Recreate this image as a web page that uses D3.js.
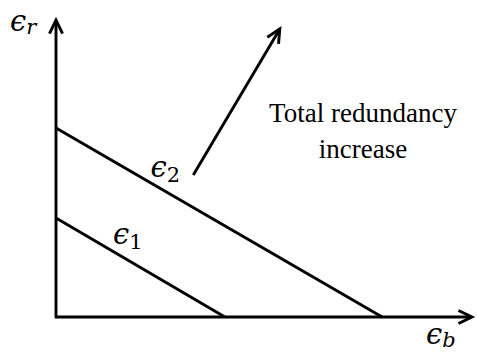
<!DOCTYPE html>
<html>
<head>
<meta charset="utf-8">
<script src="https://cdn.jsdelivr.net/npm/d3@7"></script>
<style>
  html, body { margin: 0; padding: 0; background: #fff; }
  svg { display: block; }
  .math { font-family: "DejaVu Serif", serif; }
  .txt { font-family: "Liberation Serif", "Times New Roman", serif; }
</style>
</head>
<body>
<script>
// Redundancy trade-off lines: each line joins its intercept on the
// ϵr axis with its intercept on the ϵb axis (normalised units).
const lineNames   = ["1", "2"];          // subscripts of ϵ
const rIntercepts = [0.333, 0.636];      // where each line meets the ϵr axis
const bIntercepts = [0.406, 0.784];      // where each line meets the ϵb axis

// Direction arrow for growing total redundancy
const arrowFrom = [0.33, 0.478];
const arrowTo   = [0.538, 0.97];
const captionLines = ["Total redundancy", "increase"];

const W = 477, H = 354;
const svg = d3.select("body").append("svg").attr("width", W).attr("height", H);

const x = d3.scaleLinear().domain([0, 1]).range([56, 472]);
const y = d3.scaleLinear().domain([0, 1]).range([317, 20]);

const ink = "#000";
const sw = 2.9;

// open chevron arrow head
function chevron(g, tip, angle, len, spread) {
  const a1 = angle + Math.PI - spread, a2 = angle + Math.PI + spread;
  const p = d3.path();
  p.moveTo(tip[0] + len * Math.cos(a1), tip[1] + len * Math.sin(a1));
  p.lineTo(tip[0], tip[1]);
  p.lineTo(tip[0] + len * Math.cos(a2), tip[1] + len * Math.sin(a2));
  g.append("path").attr("d", p.toString())
    .attr("fill", "none").attr("stroke", ink).attr("stroke-width", sw)
    .attr("stroke-linejoin", "miter").attr("stroke-linecap", "butt");
}

// axes
const axes = svg.append("g");
axes.append("line")
  .attr("x1", x(0)).attr("y1", y(0) + 1).attr("x2", x(0)).attr("y2", y(1) + 1)
  .attr("stroke", ink).attr("stroke-width", sw);
axes.append("line")
  .attr("x1", x(0) - 1).attr("y1", y(0)).attr("x2", x(1) - 1).attr("y2", y(0))
  .attr("stroke", ink).attr("stroke-width", sw);
chevron(axes, [x(0), y(1)], -Math.PI / 2, 15, 0.45);
chevron(axes, [x(1), y(0)], 0, 15, 0.45);

// trade-off lines
const data = lineNames.map((n, i) => ({ name: n, r: rIntercepts[i], b: bIntercepts[i] }));
svg.append("g").selectAll("line").data(data).join("line")
  .attr("x1", d => x(0)).attr("y1", d => y(d.r))
  .attr("x2", d => x(d.b)).attr("y2", d => y(0))
  .attr("stroke", ink).attr("stroke-width", sw);

// line labels, placed just above each line
const labelPos = { "1": [0.137, 0.245], "2": [0.227, 0.47] };
const lab = svg.append("g").selectAll("text").data(data).join("text")
  .attr("class", "math")
  .attr("x", d => x(labelPos[d.name][0]))
  .attr("y", d => y(labelPos[d.name][1]))
  .attr("font-size", 29);
lab.append("tspan").attr("font-style", "italic").text("ϵ");
lab.append("tspan").attr("font-size", 21).attr("dy", 5).text(d => d.name);

// axis labels
const axR = svg.append("text").attr("class", "math").attr("x", 10).attr("y", 31).attr("font-size", 29);
axR.append("tspan").attr("font-style", "italic").text("ϵ");
axR.append("tspan").attr("font-style", "italic").attr("font-size", 21).attr("dy", 3).text("r");

const axB = svg.append("text").attr("class", "math").attr("x", 426).attr("y", 344).attr("font-size", 29);
axB.append("tspan").attr("font-style", "italic").text("ϵ");
axB.append("tspan").attr("font-style", "italic").attr("font-size", 21).attr("dy", 3).text("b");

// direction arrow
const ag = svg.append("g");
ag.append("line")
  .attr("x1", x(arrowFrom[0])).attr("y1", y(arrowFrom[1]))
  .attr("x2", x(arrowTo[0])).attr("y2", y(arrowTo[1]))
  .attr("stroke", ink).attr("stroke-width", sw);
const ang = Math.atan2(y(arrowTo[1]) - y(arrowFrom[1]), x(arrowTo[0]) - x(arrowFrom[0]));
chevron(ag, [x(arrowTo[0]), y(arrowTo[1])], ang, 15, 0.45);

// caption
svg.append("g").selectAll("text").data(captionLines).join("text")
  .attr("class", "txt")
  .attr("x", 363).attr("y", (d, i) => 122 + i * 36)
  .attr("text-anchor", "middle")
  .attr("font-size", 27)
  .text(d => d);
</script>
</body>
</html>
